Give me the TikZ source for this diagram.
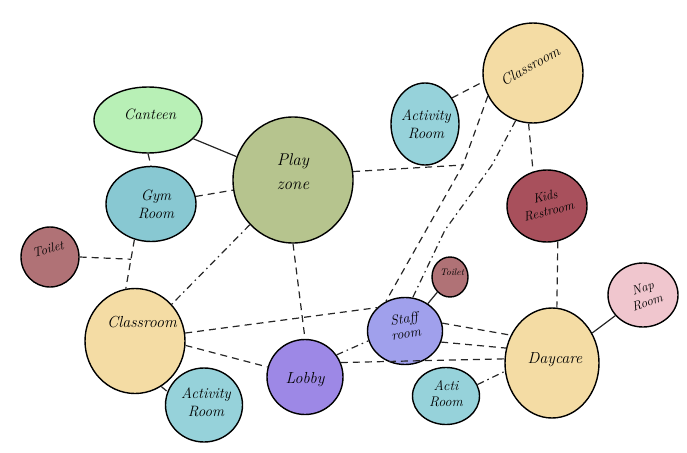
\documentclass[tikz,border=0pt]{standalone}
\usetikzlibrary{shapes.geometric}
\definecolor{cCanteen}{HTML}{B8F0B6}
\definecolor{cPlay}{HTML}{B6C48E}
\definecolor{cGym}{HTML}{88C8D2}
\definecolor{cToilet}{HTML}{B07276}
\definecolor{cClass}{HTML}{F4DCA4}
\definecolor{cAct}{HTML}{96D2DA}
\definecolor{cLobby}{HTML}{9D88E6}
\definecolor{cStaff}{HTML}{A0A0EC}
\definecolor{cNap}{HTML}{F0C6CE}
\definecolor{cKids}{HTML}{A8505C}
\begin{document}
\begin{tikzpicture}[x=1pt,y=-1pt,
 room/.style={ellipse,draw=black,line width=1.4pt,inner sep=0pt},
 lbl/.style={font=\fontsize{15}{18}\selectfont\itshape,align=center,inner sep=0pt},
 slbl/.style={font=\fontsize{9.5}{10}\selectfont\itshape,inner sep=0pt},
 link/.style={line width=1.2pt,black!85},
 dsh/.style={link,dash pattern=on 7pt off 5pt},
 dsd/.style={link,dash pattern=on 7pt off 4pt on 1.5pt off 4pt},
]
\useasboundingbox (0,0) rectangle (687,452);
% rooms
\node[room,fill=cCanteen,minimum width=108pt,minimum height=66pt] (canteen) at (148,120) {};
\node[room,fill=cPlay,minimum width=120pt,minimum height=126pt] (play) at (293,180) {};
\node[room,fill=cGym,minimum width=90pt,minimum height=75pt] (gym) at (151,204) {};
\node[room,fill=cToilet,minimum width=58pt,minimum height=60pt] (toilL) at (50,257) {};
\node[room,fill=cClass,minimum width=100pt,minimum height=105pt] (classL) at (135,341) {};
\node[room,fill=cAct,minimum width=77pt,minimum height=74pt] (actBL) at (204,405) {};
\node[room,fill=cLobby,minimum width=76pt,minimum height=75pt] (lobby) at (305,377) {};
\node[room,fill=cStaff,minimum width=75pt,minimum height=67pt] (staff) at (405,331) {};
\node[room,fill=cToilet,minimum width=36pt,minimum height=40pt] (toilS) at (450,277) {};
\node[room,fill=cAct,minimum width=67pt,minimum height=57pt] (acti) at (446,396) {};
\node[room,fill=cClass,minimum width=94pt,minimum height=110pt] (daycare) at (552,363) {};
\node[room,fill=cNap,minimum width=70pt,minimum height=64pt] (nap) at (643,295) {};
\node[room,fill=cKids,minimum width=80pt,minimum height=72pt] (kids) at (547,206) {};
\node[room,fill=cClass,minimum width=100pt,minimum height=100pt] (classTR) at (533,73) {};
\node[room,fill=cAct,minimum width=68pt,minimum height=82pt] (actT) at (425,124) {};
% labels
\node[lbl] (tCanteen) at (150,114) {Canteen};
\node[lbl,font=\fontsize{17}{24}\selectfont\itshape] (tPlay) at (293,172) {Play\\zone};
\node[lbl] (tGym) at (156,204) {Gym\\Room};
\node[lbl,font=\fontsize{13}{15}\selectfont\itshape,rotate=15] (tToilL) at (48,249) {Toilet};
\node[lbl,font=\fontsize{16}{18}\selectfont\itshape] (tClassL) at (142,322) {Classroom};
\node[lbl] (tActBL) at (206,402) {Activity\\Room};
\node[lbl,font=\fontsize{16}{18}\selectfont\itshape] (tLobby) at (305,380) {Lobby};
\node[lbl,font=\fontsize{14}{15}\selectfont\itshape,rotate=8] (tStaff) at (405,326) {Staff\\room};
\node[slbl] (tToilS) at (452,272) {Toilet};
\node[lbl,font=\fontsize{14}{16}\selectfont\itshape] (tActi) at (446,394) {Acti\\Room};
\node[lbl,font=\fontsize{16}{18}\selectfont\itshape] (tDaycare) at (555,360) {Daycare};
\node[lbl,font=\fontsize{13}{15}\selectfont\itshape,rotate=18] (tNap) at (645,295) {Nap\\Room};
\node[lbl,font=\fontsize{13}{15}\selectfont\itshape,rotate=14] (tKids) at (547,204) {Kids\\Restroom};
\node[lbl,rotate=30] (tClassTR) at (530,66) {Classroom};
\node[lbl] (tActT) at (426,124) {Activity\\Room};
% junction coordinates
\coordinate (k) at (463,165);
\coordinate (m1) at (492,165);
\coordinate (m2) at (445,230);
\path (gym.245) -- (classL.100) coordinate[pos=0.4] (j);
% connectors
\draw[link] (canteen) -- (play);
\draw[dsh] (canteen.south) -- (gym.north);
\draw[dsh] (gym) -- (play);
\draw[dsh] (gym.245) -- (classL.100);
\draw[dsh] (toilL.east) -- (j);
\draw[dsd] (play.226) -- (classL.45);
\draw[dsh] (play.south) -- (lobby.north);
\draw[dsh] (play.8) -- (k);
\draw[dsh] (actT.44) -- (classTR.190);
\draw[dsh] (classTR.207) -- (k) -- (staff.123);
\draw[dsd] (classTR.250) -- (m1) -- (m2) -- (staff.77);
\draw[dsh] (classTR.265) -- (kids.112);
\draw[dsh] (classL.9) -- (staff.140);
\draw[dsh] (classL.355) -- (lobby.165);
\draw[dsd] (classL.300) -- (actBL.160);
\draw[dsd] (lobby.35) -- (staff.195);
\draw[dsh] (lobby.22) -- (daycare.175);
\draw[dsh] (staff.12) -- (daycare.146);
\draw[dsh] (staff.343) -- (daycare.162);
\draw[link] (staff) -- (toilS);
\draw[dsd] (acti.20) -- (daycare.190);
\draw[dsh] (kids.287) -- (daycare.85);
\draw[link] (daycare) -- (nap);
\end{tikzpicture}
\end{document}
